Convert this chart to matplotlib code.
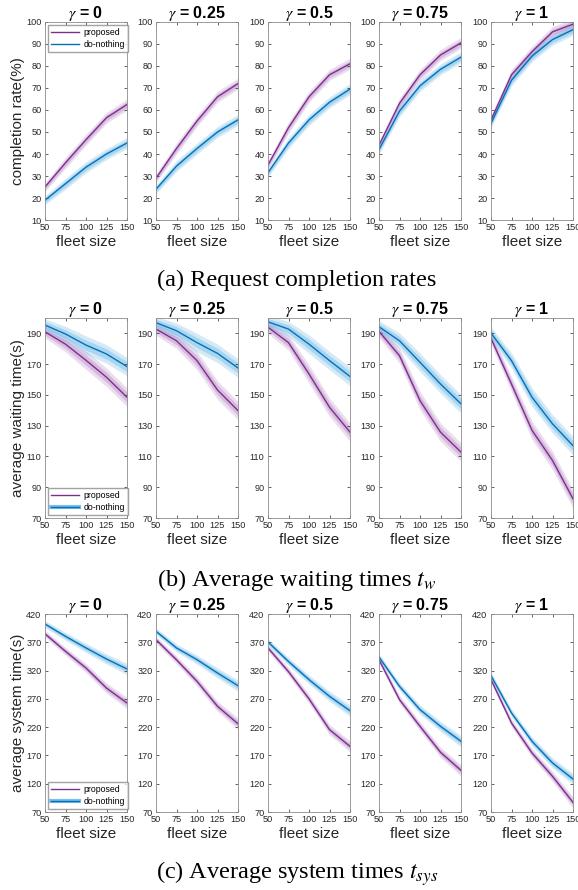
import numpy as np
import matplotlib
matplotlib.use("Agg")
import matplotlib.pyplot as plt
from matplotlib.lines import Line2D
from matplotlib.legend_handler import HandlerTuple

plt.rcParams['font.family'] = ['Liberation Sans', 'DejaVu Sans']
plt.rcParams['mathtext.fontset'] = 'stix'

fleet = [50, 75, 100, 125, 150]
gammas = ["0", "0.25", "0.5", "0.75", "1"]

# (a) completion rate (%)
comp_prop = [
    [25, 36, 46.5, 56.5, 62.5],
    [29, 42.5, 55, 66, 72],
    [35, 52, 66, 76, 81],
    [44, 63, 76, 85, 90.5],
    [55.5, 76, 86.5, 95.5, 99],
]
comp_none = [
    [19, 26.5, 34, 40, 45],
    [24, 34.5, 42.5, 50, 55.5],
    [31.5, 45, 55.5, 63.5, 69.5],
    [42, 59.5, 71, 78.5, 84],
    [54, 73.5, 84.5, 92, 96.5],
]
# (b) waiting time (s)
wait_prop = [
    [191, 183, 172.5, 161.5, 148.5],
    [192.8, 185.2, 172.3, 153.2, 139.8],
    [194, 184, 163.6, 142, 125.8],
    [191.3, 175.5, 146.3, 125.8, 112.8],
    [186.8, 157, 127, 107.4, 82.5],
]
wait_none = [
    [195.4, 189.6, 182.4, 176.6, 168.4],
    [197, 191.7, 184, 177, 167.5],
    [197.5, 192.8, 183, 172.3, 162],
    [194.3, 185.2, 171.2, 157.1, 144.2],
    [190.2, 172.3, 148.5, 131.2, 117],
]
# (c) system time (s)
sys_prop = [
    [385, 354, 324.5, 289, 262.7],
    [374.6, 339, 301, 256.8, 226],
    [360, 318, 270, 215.5, 186],
    [339, 268.6, 221.4, 175.5, 143.6],
    [304, 227.3, 174.3, 133, 87],
]
sys_none = [
    [402.3, 380.5, 360, 340.4, 322.8],
    [389.4, 360, 339.3, 315.7, 293.3],
    [370.5, 336, 304, 274.5, 249],
    [344, 292, 251, 221.4, 195],
    [311, 245, 195, 156.7, 128.3],
]
# half-widths of the shaded bands (outer)
comp_band = [2.0, 2.5, 2.5, 2.5, 2.5]
wait_band = [4, 5, 6, 6, 6]
sys_band = [6, 7, 8, 9, 10]

col_prop = "#7E2F8E"
col_none = "#0072BD"
band_prop = "#B07CC0"
band_none = "#5AAEE0"

rows = [
    dict(prop=comp_prop, none=comp_none, band=comp_band, ylim=(10, 100),
         yticks=range(10, 101, 10), ylabel="completion rate(%)",
         top=22, bot=220, cap="(a) Request completion rates", capy=280,
         leg="upper left", thick=False),
    dict(prop=wait_prop, none=wait_none, band=wait_band, ylim=(70, 200),
         yticks=range(70, 191, 20), ylabel="average waiting time(s)",
         top=318, bot=518, cap=r"(b) Average waiting times $t_w$", capy=580,
         leg="lower left", thick=True),
    dict(prop=sys_prop, none=sys_none, band=sys_band, ylim=(70, 420),
         yticks=range(70, 421, 50), ylabel="average system time(s)",
         top=614, bot=812, cap=r"(c) Average system times $t_{sys}$", capy=874,
         leg="lower left", thick=True),
]

W, H = 578, 890
fig = plt.figure(figsize=(W / 100, H / 100), dpi=100)
lefts = [45, 156, 268, 379, 491]
pw = 82

for r in rows:
    for j, g in enumerate(gammas):
        ax = fig.add_axes([lefts[j] / W, 1 - r["bot"] / H, pw / W, (r["bot"] - r["top"]) / H])
        x = np.array(fleet)
        for vals, bc, lc in [(r["prop"][j], band_prop, col_prop), (r["none"][j], band_none, col_none)]:
            v = np.array(vals)
            b = np.array(r["band"])
            ax.fill_between(x, v - b, v + b, color=bc, alpha=0.25, lw=0)
            ax.fill_between(x, v - b * 0.55, v + b * 0.55, color=bc, alpha=0.35, lw=0)
            ax.plot(x, v, color=lc, lw=1.0)
        ax.set_xlim(50, 150)
        ax.set_ylim(*r["ylim"])
        ax.set_xticks(fleet)
        ax.set_yticks(list(r["yticks"]))
        ax.tick_params(direction="in", length=2, width=0.5, labelsize=6.6,
                       colors="#262626", top=True, right=True, pad=2.5)
        for s in ax.spines.values():
            s.set_color("#8c8c8c")
            s.set_linewidth(0.6)
        ax.set_xlabel("fleet size", fontsize=11, color="#262626", labelpad=2)
        ax.set_title(r"$\gamma$ = " + g, fontsize=11.5, fontweight="bold", pad=3)
        if j == 0:
            ax.set_ylabel(r["ylabel"], fontsize=11, color="#262626", labelpad=1)
            if r["thick"]:
                h2 = (Line2D([], [], color="#7FBDE6", lw=3), Line2D([], [], color=col_none, lw=1))
            else:
                h2 = Line2D([], [], color=col_none, lw=1)
            h1 = Line2D([], [], color=col_prop, lw=1)
            ax.legend([h1, h2], ["proposed", "do-nothing"], loc=r["leg"], fontsize=6.3,
                      handler_map={tuple: HandlerTuple(ndivide=1, pad=0)},
                      frameon=True, fancybox=False, edgecolor="#8c8c8c",
                      handlelength=3.2, borderaxespad=0.3, labelspacing=0.3,
                      handletextpad=0.5, borderpad=0.4)
    fig.text(297 / W, 1 - r["capy"] / H, r["cap"], ha="center", va="center",
             fontsize=17.5, family="Liberation Serif")

fig.savefig("out.png", dpi=100)
